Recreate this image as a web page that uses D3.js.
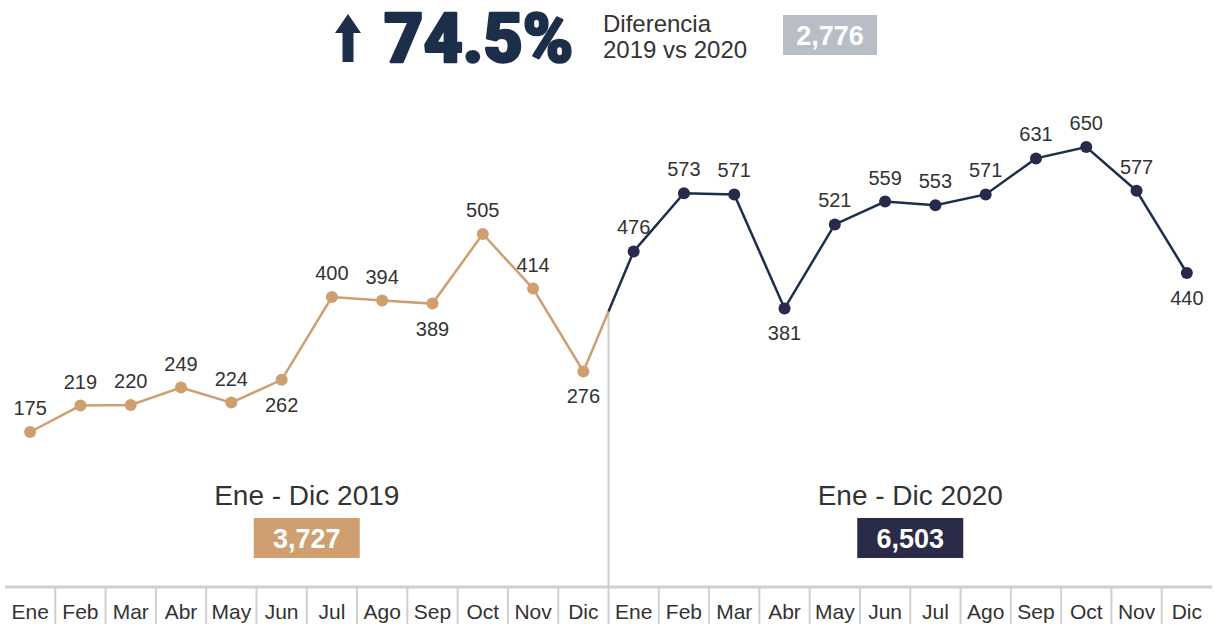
<!DOCTYPE html>
<html>
<head>
<meta charset="UTF-8">
<style>
  body { margin: 0; background: #fff; }
  svg { display: block; }
</style>
</head>
<body>
<svg></svg>
<script src="https://d3js.org/d3.v7.min.js"></script>
<script>
    // data
    let months = ["Ene", "Feb", "Mar", "Abr", "May", "Jun", "Jul", "Ago", "Sep", "Oct", "Nov", "Dic"];
    let values2019 = [175, 219, 220, 249, 224, 262, 400, 394, 389, 505, 414, 276];
    let values2020 = [476, 573, 571, 381, 521, 559, 553, 571, 631, 650, 577, 440];
    // labels drawn below the point
    let below2019 = [262, 389, 276];
    let below2020 = [381, 440];
    let totals = ["3,727", "6,503"];
    let yearLabels = ["Ene - Dic 2019", "Ene - Dic 2020"];
    let pctChange = "74.5%";
    let diffLines = ["Diferencia", "2019 vs 2020"];
    let diffValue = "2,776";

    let width = 1214,
        height = 624;

    let orange = "#cf9f70",
        navy = "#1c2e4a",
        navyDot = "#272a4a",
        grey = "#cfcfcf",
        textCol = "#333";

    let svg = d3.select("svg").attr("width", width).attr("height", height)
        .style("font-family", "'Liberation Sans', Arial, sans-serif");

    let allMonths = d3.range(24);
    let x = d3.scaleBand().domain(allMonths).range([5, 1212]);
    let xc = i => x(i) + x.bandwidth() / 2;
    let y = d3.scaleLinear().domain([0, 650]).range([537, 147]);

    let pts2019 = values2019.map((v, i) => ({ i: i, v: v, below: below2019.includes(v) }));
    let pts2020 = values2020.map((v, i) => ({ i: i + 12, v: v, below: below2020.includes(v) }));

    // split point between Dic 2019 and Ene 2020
    let splitX = x(12);
    let splitY = y(values2019[11]) + (y(values2020[0]) - y(values2019[11])) *
        ((splitX - xc(11)) / (xc(12) - xc(11)));

    // axis
    let axisY = 587;
    svg.append("line")
        .attr("x1", 5).attr("x2", 1212)
        .attr("y1", axisY).attr("y2", axisY)
        .attr("stroke", grey).attr("stroke-width", 3);

    svg.append("g").selectAll("line")
        .data(d3.range(1, 24))
        .enter().append("line")
        .attr("x1", d => x(d)).attr("x2", d => x(d))
        .attr("y1", axisY).attr("y2", height)
        .attr("stroke", grey).attr("stroke-width", 2);

    // vertical separator
    svg.append("line")
        .attr("x1", splitX).attr("x2", splitX)
        .attr("y1", splitY).attr("y2", axisY)
        .attr("stroke", grey).attr("stroke-width", 2);

    svg.append("g").selectAll("text")
        .data(allMonths)
        .enter().append("text")
        .attr("x", d => xc(d))
        .attr("y", 619)
        .attr("text-anchor", "middle")
        .attr("font-size", "21px")
        .attr("fill", textCol)
        .text(d => months[d % 12]);

    // lines
    let line = d3.line().x(d => d[0]).y(d => d[1]);
    let l2019 = pts2019.map(d => [xc(d.i), y(d.v)]).concat([[splitX, splitY]]);
    let l2020 = [[splitX, splitY]].concat(pts2020.map(d => [xc(d.i), y(d.v)]));

    svg.append("path").attr("d", line(l2019))
        .attr("fill", "none").attr("stroke", orange).attr("stroke-width", 2.5);
    svg.append("path").attr("d", line(l2020))
        .attr("fill", "none").attr("stroke", navy).attr("stroke-width", 2.5);

    function drawPoints(data, col) {
        let g = svg.append("g");
        g.selectAll("circle")
            .data(data)
            .enter().append("circle")
            .attr("cx", d => xc(d.i))
            .attr("cy", d => y(d.v))
            .attr("r", 6)
            .attr("fill", col);
        g.selectAll("text")
            .data(data)
            .enter().append("text")
            .attr("x", d => xc(d.i))
            .attr("y", d => d.below ? y(d.v) + 32 : y(d.v) - 17)
            .attr("text-anchor", "middle")
            .attr("font-size", "20px")
            .attr("fill", textCol)
            .text(d => d.v);
    }
    drawPoints(pts2019, orange);
    drawPoints(pts2020, navyDot);

    // year totals
    let centers = [x(6), x(18)];
    let boxCols = [orange, "#2a2b48"];
    centers.forEach((cx, k) => {
        svg.append("text")
            .attr("x", cx).attr("y", 505)
            .attr("text-anchor", "middle")
            .attr("font-size", "28px")
            .attr("fill", textCol)
            .text(yearLabels[k]);
        svg.append("rect")
            .attr("x", cx - 53).attr("y", 518)
            .attr("width", 106).attr("height", 40)
            .attr("fill", boxCols[k]);
        svg.append("text")
            .attr("x", cx).attr("y", 548)
            .attr("text-anchor", "middle")
            .attr("font-size", "27px")
            .attr("font-weight", "bold")
            .attr("fill", "#fff")
            .text(totals[k]);
    });

    // header
    let head = svg.append("g");
    head.append("path")
        .attr("d", "M348,14 L361,33 L353.5,33 L353.5,62 L342.5,62 L342.5,33 L335,33 Z")
        .attr("fill", navy);
    head.append("text")
        .attr("x", 384).attr("y", 62)
        .attr("font-family", "Roboto, sans-serif")
        .attr("font-weight", 900)
        .attr("font-size", "68px")
        .attr("fill", navy)
        .attr("stroke", navy)
        .attr("stroke-width", 2.5)
        .attr("stroke-linejoin", "round")
        .text(pctChange);
    head.selectAll("text.diff")
        .data(diffLines)
        .enter().append("text")
        .attr("class", "diff")
        .attr("x", 603)
        .attr("y", (d, i) => 32 + i * 26)
        .attr("font-size", "24px")
        .attr("fill", textCol)
        .text(d => d);
    head.append("rect")
        .attr("x", 783).attr("y", 15)
        .attr("width", 94).attr("height", 40)
        .attr("fill", "#b9bec6");
    head.append("text")
        .attr("x", 830).attr("y", 45)
        .attr("text-anchor", "middle")
        .attr("font-size", "27px")
        .attr("font-weight", "bold")
        .attr("fill", "#fff")
        .text(diffValue);
</script>
</body>
</html>
